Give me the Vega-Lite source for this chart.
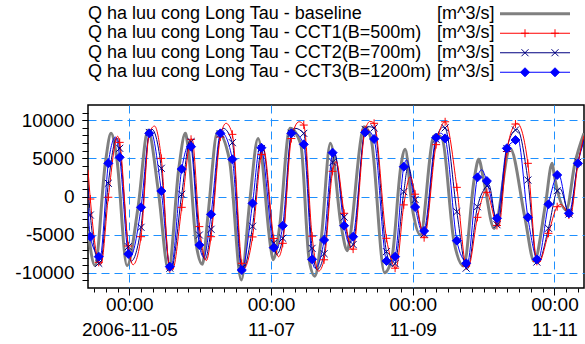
{
"$schema": "https://vega.github.io/schema/vega-lite/v6.json",
"padding": {"left": 14, "top": 4, "right": 3, "bottom": 0},
"bounds": "flush",
"spacing": 23,
"config": {"font": "Liberation Sans", "view": {"stroke": null}},
"datasets": {
"legend": [
{"s":"baseline","label":"Q ha luu cong Long Tau - baseline","unit":"[m^3/s]"},
{"s":"CCT1","label":"Q ha luu cong Long Tau - CCT1(B=500m)","unit":"[m^3/s]"},
{"s":"CCT2","label":"Q ha luu cong Long Tau - CCT2(B=700m)","unit":"[m^3/s]"},
{"s":"CCT3","label":"Q ha luu cong Long Tau - CCT3(B=1200m)","unit":"[m^3/s]"}
],
"markers": [
{"t":"2006-11-04T10:47","CCT1":-330,"CCT2":-2430,"CCT3":-5270},
{"t":"2006-11-04T13:38","CCT1":-8630,"CCT2":-8760,"CCT3":-7890},
{"t":"2006-11-04T16:53","CCT1":-100,"CCT2":1730,"CCT3":4350},
{"t":"2006-11-04T20:44","CCT1":7100,"CCT2":6320,"CCT3":5140},
{"t":"2006-11-04T23:39","CCT1":-6490,"CCT2":-6580,"CCT3":-7540},
{"t":"2006-11-05T03:58","CCT1":-5270,"CCT2":-4040,"CCT3":-1420},
{"t":"2006-11-05T06:46","CCT1":8300,"CCT2":8400,"CCT3":8280},
{"t":"2006-11-05T10:50","CCT1":5000,"CCT2":3700,"CCT3":720},
{"t":"2006-11-05T13:43","CCT1":-9500,"CCT2":-9400,"CCT3":-9200},
{"t":"2006-11-05T17:45","CCT1":-1420,"CCT2":290,"CCT3":3600},
{"t":"2006-11-05T20:54","CCT1":7500,"CCT2":7190,"CCT3":6530},
{"t":"2006-11-05T23:43","CCT1":-3950,"CCT2":-5050,"CCT3":-6360},
{"t":"2006-11-06T03:41","CCT1":-5270,"CCT2":-4300,"CCT3":-2340},
{"t":"2006-11-06T06:50","CCT1":7800,"CCT2":8200,"CCT3":8280},
{"t":"2006-11-06T10:54","CCT1":8150,"CCT2":7060,"CCT3":4870},
{"t":"2006-11-06T14:05","CCT1":-8760,"CCT2":-9400,"CCT3":-9640},
{"t":"2006-11-06T17:44","CCT1":-5300,"CCT2":-3900,"CCT3":-900},
{"t":"2006-11-06T20:43","CCT1":5500,"CCT2":6300,"CCT3":6400},
{"t":"2006-11-07T00:55","CCT1":-5500,"CCT2":-6100,"CCT3":-6710},
{"t":"2006-11-07T03:58","CCT1":-6140,"CCT2":-5480,"CCT3":-3830},
{"t":"2006-11-07T06:53","CCT1":7600,"CCT2":8300,"CCT3":8280},
{"t":"2006-11-07T11:05","CCT1":9370,"CCT2":8280,"CCT3":6840},
{"t":"2006-11-07T13:54","CCT1":-5200,"CCT2":-6800,"CCT3":-8240},
{"t":"2006-11-07T17:58","CCT1":-8300,"CCT2":-7500,"CCT3":-5700},
{"t":"2006-11-07T20:51","CCT1":3300,"CCT2":4500,"CCT3":5750},
{"t":"2006-11-08T00:45","CCT1":-2200,"CCT2":-2700,"CCT3":-3830},
{"t":"2006-11-08T03:48","CCT1":-6900,"CCT2":-6300,"CCT3":-5270},
{"t":"2006-11-08T07:52","CCT1":8700,"CCT2":8800,"CCT3":8410},
{"t":"2006-11-08T10:54","CCT1":9600,"CCT2":9000,"CCT3":7540},
{"t":"2006-11-08T15:05","CCT1":-5480,"CCT2":-7230,"CCT3":-8460},
{"t":"2006-11-08T18:01","CCT1":-9400,"CCT2":-8800,"CCT3":-7890},
{"t":"2006-11-08T20:58","CCT1":-1100,"CCT2":630,"CCT3":3910},
{"t":"2006-11-09T00:48","CCT1":300,"CCT2":-400,"CCT3":-1380},
{"t":"2006-11-09T03:51","CCT1":-5400,"CCT2":-4900,"CCT3":-4520},
{"t":"2006-11-09T07:55","CCT1":6800,"CCT2":7500,"CCT3":7710},
{"t":"2006-11-09T10:58","CCT1":9800,"CCT2":9000,"CCT3":7620},
{"t":"2006-11-09T14:56","CCT1":1200,"CCT2":-2000,"CCT3":-5790},
{"t":"2006-11-09T18:05","CCT1":-9100,"CCT2":-9400,"CCT3":-8760},
{"t":"2006-11-09T21:55","CCT1":-2730,"CCT2":-1340,"CCT3":2510},
{"t":"2006-11-10T01:06","CCT1":550,"CCT2":1380,"CCT3":2030},
{"t":"2006-11-10T04:31","CCT1":-3800,"CCT2":-3700,"CCT3":-2860},
{"t":"2006-11-10T07:52","CCT1":5900,"CCT2":6300,"CCT3":6320},
{"t":"2006-11-10T10:47","CCT1":9500,"CCT2":8720,"CCT3":7410},
{"t":"2006-11-10T14:59","CCT1":4350,"CCT2":2160,"CCT3":-2730},
{"t":"2006-11-10T18:02","CCT1":-8500,"CCT2":-8600,"CCT3":-8240},
{"t":"2006-11-10T21:58","CCT1":-4830,"CCT2":-4170,"CCT3":-1020},
{"t":"2006-11-11T00:55","CCT1":-1340,"CCT2":760,"CCT3":2820},
{"t":"2006-11-11T04:53","CCT1":-2430,"CCT2":-2300,"CCT3":-2200},
{"t":"2006-11-11T07:56","CCT1":4200,"CCT2":4500,"CCT3":4350}
],
"flow": [
{"s":"baseline","t":"2006-11-04T10:00","q":-4500},
{"s":"baseline","t":"2006-11-04T12:22","q":-9070},
{"s":"baseline","t":"2006-11-04T15:52","q":4350},
{"s":"baseline","t":"2006-11-04T17:48","q":8280},
{"s":"baseline","t":"2006-11-04T19:43","q":5140},
{"s":"baseline","t":"2006-11-04T23:13","q":-9070},
{"s":"baseline","t":"2006-11-05T02:57","q":-1420},
{"s":"baseline","t":"2006-11-05T06:20","q":8720},
{"s":"baseline","t":"2006-11-05T09:49","q":720},
{"s":"baseline","t":"2006-11-05T13:17","q":-9640},
{"s":"baseline","t":"2006-11-05T16:44","q":3600},
{"s":"baseline","t":"2006-11-05T18:58","q":8280},
{"s":"baseline","t":"2006-11-05T19:53","q":6530},
{"s":"baseline","t":"2006-11-05T22:42","q":-6360},
{"s":"baseline","t":"2006-11-06T00:44","q":-8900},
{"s":"baseline","t":"2006-11-06T02:40","q":-2340},
{"s":"baseline","t":"2006-11-06T05:53","q":8500},
{"s":"baseline","t":"2006-11-06T09:53","q":4870},
{"s":"baseline","t":"2006-11-06T13:55","q":-10950},
{"s":"baseline","t":"2006-11-06T16:43","q":-900},
{"s":"baseline","t":"2006-11-06T19:36","q":7600},
{"s":"baseline","t":"2006-11-06T23:54","q":-6710},
{"s":"baseline","t":"2006-11-07T00:41","q":-8300},
{"s":"baseline","t":"2006-11-07T02:57","q":-3830},
{"s":"baseline","t":"2006-11-07T05:52","q":8280},
{"s":"baseline","t":"2006-11-07T06:27","q":8940},
{"s":"baseline","t":"2006-11-07T10:04","q":6840},
{"s":"baseline","t":"2006-11-07T12:53","q":-8240},
{"s":"baseline","t":"2006-11-07T14:49","q":-10450},
{"s":"baseline","t":"2006-11-07T16:57","q":-5700},
{"s":"baseline","t":"2006-11-07T20:06","q":6970},
{"s":"baseline","t":"2006-11-07T23:44","q":-3830},
{"s":"baseline","t":"2006-11-08T01:52","q":-7100},
{"s":"baseline","t":"2006-11-08T02:47","q":-5270},
{"s":"baseline","t":"2006-11-08T06:51","q":8410},
{"s":"baseline","t":"2006-11-08T07:31","q":9150},
{"s":"baseline","t":"2006-11-08T09:54","q":7540},
{"s":"baseline","t":"2006-11-08T14:28","q":-10000},
{"s":"baseline","t":"2006-11-08T17:00","q":-7890},
{"s":"baseline","t":"2006-11-08T19:57","q":3910},
{"s":"baseline","t":"2006-11-08T21:25","q":6190},
{"s":"baseline","t":"2006-11-08T23:47","q":-1380},
{"s":"baseline","t":"2006-11-09T02:34","q":-5050},
{"s":"baseline","t":"2006-11-09T06:54","q":7710},
{"s":"baseline","t":"2006-11-09T07:55","q":8100},
{"s":"baseline","t":"2006-11-09T09:57","q":7620},
{"s":"baseline","t":"2006-11-09T13:55","q":-5790},
{"s":"baseline","t":"2006-11-09T17:14","q":-9100},
{"s":"baseline","t":"2006-11-09T20:54","q":2510},
{"s":"baseline","t":"2006-11-09T22:19","q":4870},
{"s":"baseline","t":"2006-11-10T00:05","q":2030},
{"s":"baseline","t":"2006-11-10T03:34","q":-4200},
{"s":"baseline","t":"2006-11-10T08:59","q":6300},
{"s":"baseline","t":"2006-11-10T13:58","q":-2730},
{"s":"baseline","t":"2006-11-10T17:07","q":-8500},
{"s":"baseline","t":"2006-11-10T20:57","q":-1020},
{"s":"baseline","t":"2006-11-10T23:13","q":4350},
{"s":"baseline","t":"2006-11-10T23:54","q":2820},
{"s":"baseline","t":"2006-11-11T03:58","q":-1770},
{"s":"baseline","t":"2006-11-11T06:55","q":4350},
{"s":"baseline","t":"2006-11-11T10:00","q":8300},
{"s":"CCT3","t":"2006-11-04T10:00","q":-1500},
{"s":"CCT3","t":"2006-11-04T10:47","q":-5270},
{"s":"CCT3","t":"2006-11-04T13:38","q":-7890},
{"s":"CCT3","t":"2006-11-04T14:04","q":-8050},
{"s":"CCT3","t":"2006-11-04T16:53","q":4350},
{"s":"CCT3","t":"2006-11-04T19:19","q":7780},
{"s":"CCT3","t":"2006-11-04T20:44","q":5140},
{"s":"CCT3","t":"2006-11-04T23:39","q":-7540},
{"s":"CCT3","t":"2006-11-05T00:14","q":-7950},
{"s":"CCT3","t":"2006-11-05T03:58","q":-1420},
{"s":"CCT3","t":"2006-11-05T06:46","q":8280},
{"s":"CCT3","t":"2006-11-05T07:11","q":8540},
{"s":"CCT3","t":"2006-11-05T10:50","q":720},
{"s":"CCT3","t":"2006-11-05T13:43","q":-9200},
{"s":"CCT3","t":"2006-11-05T14:07","q":-9300},
{"s":"CCT3","t":"2006-11-05T17:45","q":3600},
{"s":"CCT3","t":"2006-11-05T20:28","q":6970},
{"s":"CCT3","t":"2006-11-05T20:54","q":6530},
{"s":"CCT3","t":"2006-11-05T23:43","q":-6360},
{"s":"CCT3","t":"2006-11-06T01:12","q":-7950},
{"s":"CCT3","t":"2006-11-06T03:41","q":-2340},
{"s":"CCT3","t":"2006-11-06T06:50","q":8280},
{"s":"CCT3","t":"2006-11-06T07:14","q":8400},
{"s":"CCT3","t":"2006-11-06T10:54","q":4870},
{"s":"CCT3","t":"2006-11-06T14:05","q":-9640},
{"s":"CCT3","t":"2006-11-06T17:44","q":-900},
{"s":"CCT3","t":"2006-11-06T20:17","q":6600},
{"s":"CCT3","t":"2006-11-06T20:43","q":6400},
{"s":"CCT3","t":"2006-11-07T00:55","q":-6710},
{"s":"CCT3","t":"2006-11-07T01:22","q":-7100},
{"s":"CCT3","t":"2006-11-07T03:58","q":-3830},
{"s":"CCT3","t":"2006-11-07T06:53","q":8280},
{"s":"CCT3","t":"2006-11-07T07:22","q":8500},
{"s":"CCT3","t":"2006-11-07T11:05","q":6840},
{"s":"CCT3","t":"2006-11-07T13:54","q":-8240},
{"s":"CCT3","t":"2006-11-07T14:55","q":-9400},
{"s":"CCT3","t":"2006-11-07T17:58","q":-5700},
{"s":"CCT3","t":"2006-11-07T20:51","q":5750},
{"s":"CCT3","t":"2006-11-07T21:21","q":6000},
{"s":"CCT3","t":"2006-11-08T00:45","q":-3830},
{"s":"CCT3","t":"2006-11-08T02:26","q":-6150},
{"s":"CCT3","t":"2006-11-08T03:48","q":-5270},
{"s":"CCT3","t":"2006-11-08T07:52","q":8410},
{"s":"CCT3","t":"2006-11-08T08:42","q":8650},
{"s":"CCT3","t":"2006-11-08T10:54","q":7540},
{"s":"CCT3","t":"2006-11-08T15:05","q":-8460},
{"s":"CCT3","t":"2006-11-08T16:20","q":-8950},
{"s":"CCT3","t":"2006-11-08T18:01","q":-7890},
{"s":"CCT3","t":"2006-11-08T20:58","q":3910},
{"s":"CCT3","t":"2006-11-08T21:55","q":4800},
{"s":"CCT3","t":"2006-11-09T00:48","q":-1380},
{"s":"CCT3","t":"2006-11-09T03:21","q":-4700},
{"s":"CCT3","t":"2006-11-09T03:51","q":-4520},
{"s":"CCT3","t":"2006-11-09T07:55","q":7710},
{"s":"CCT3","t":"2006-11-09T09:26","q":8300},
{"s":"CCT3","t":"2006-11-09T10:58","q":7620},
{"s":"CCT3","t":"2006-11-09T14:56","q":-5790},
{"s":"CCT3","t":"2006-11-09T18:05","q":-8760},
{"s":"CCT3","t":"2006-11-09T18:25","q":-8900},
{"s":"CCT3","t":"2006-11-09T21:55","q":2510},
{"s":"CCT3","t":"2006-11-09T23:20","q":3500},
{"s":"CCT3","t":"2006-11-10T01:06","q":2030},
{"s":"CCT3","t":"2006-11-10T04:31","q":-2860},
{"s":"CCT3","t":"2006-11-10T07:52","q":6320},
{"s":"CCT3","t":"2006-11-10T10:47","q":7410},
{"s":"CCT3","t":"2006-11-10T11:32","q":7650},
{"s":"CCT3","t":"2006-11-10T14:59","q":-2730},
{"s":"CCT3","t":"2006-11-10T18:02","q":-8240},
{"s":"CCT3","t":"2006-11-10T18:23","q":-8400},
{"s":"CCT3","t":"2006-11-10T21:58","q":-1020},
{"s":"CCT3","t":"2006-11-11T00:55","q":2820},
{"s":"CCT3","t":"2006-11-11T01:21","q":2950},
{"s":"CCT3","t":"2006-11-11T04:53","q":-2200},
{"s":"CCT3","t":"2006-11-11T07:56","q":4350},
{"s":"CCT3","t":"2006-11-11T10:00","q":7300},
{"s":"CCT2","t":"2006-11-04T10:00","q":1200},
{"s":"CCT2","t":"2006-11-04T10:47","q":-2430},
{"s":"CCT2","t":"2006-11-04T13:38","q":-8760},
{"s":"CCT2","t":"2006-11-04T14:10","q":-8900},
{"s":"CCT2","t":"2006-11-04T16:53","q":1730},
{"s":"CCT2","t":"2006-11-04T19:43","q":7700},
{"s":"CCT2","t":"2006-11-04T20:44","q":6320},
{"s":"CCT2","t":"2006-11-04T23:39","q":-6580},
{"s":"CCT2","t":"2006-11-05T00:34","q":-8500},
{"s":"CCT2","t":"2006-11-05T03:58","q":-4040},
{"s":"CCT2","t":"2006-11-05T06:46","q":8400},
{"s":"CCT2","t":"2006-11-05T07:41","q":8800},
{"s":"CCT2","t":"2006-11-05T10:50","q":3700},
{"s":"CCT2","t":"2006-11-05T13:43","q":-9400},
{"s":"CCT2","t":"2006-11-05T14:11","q":-9500},
{"s":"CCT2","t":"2006-11-05T17:45","q":290},
{"s":"CCT2","t":"2006-11-05T20:34","q":7350},
{"s":"CCT2","t":"2006-11-05T20:54","q":7190},
{"s":"CCT2","t":"2006-11-05T23:43","q":-5050},
{"s":"CCT2","t":"2006-11-06T01:39","q":-8250},
{"s":"CCT2","t":"2006-11-06T03:41","q":-4300},
{"s":"CCT2","t":"2006-11-06T06:50","q":8200},
{"s":"CCT2","t":"2006-11-06T07:45","q":8950},
{"s":"CCT2","t":"2006-11-06T10:54","q":7060},
{"s":"CCT2","t":"2006-11-06T14:05","q":-9400},
{"s":"CCT2","t":"2006-11-06T14:29","q":-9600},
{"s":"CCT2","t":"2006-11-06T17:44","q":-3900},
{"s":"CCT2","t":"2006-11-06T20:43","q":6300},
{"s":"CCT2","t":"2006-11-06T21:08","q":6550},
{"s":"CCT2","t":"2006-11-07T00:55","q":-6100},
{"s":"CCT2","t":"2006-11-07T01:48","q":-7600},
{"s":"CCT2","t":"2006-11-07T03:58","q":-5480},
{"s":"CCT2","t":"2006-11-07T06:53","q":8300},
{"s":"CCT2","t":"2006-11-07T08:02","q":8950},
{"s":"CCT2","t":"2006-11-07T11:05","q":8280},
{"s":"CCT2","t":"2006-11-07T13:54","q":-6800},
{"s":"CCT2","t":"2006-11-07T15:36","q":-9600},
{"s":"CCT2","t":"2006-11-07T17:58","q":-7500},
{"s":"CCT2","t":"2006-11-07T20:51","q":4500},
{"s":"CCT2","t":"2006-11-07T21:31","q":5500},
{"s":"CCT2","t":"2006-11-08T00:45","q":-2700},
{"s":"CCT2","t":"2006-11-08T03:01","q":-6600},
{"s":"CCT2","t":"2006-11-08T03:48","q":-6300},
{"s":"CCT2","t":"2006-11-08T07:52","q":8800},
{"s":"CCT2","t":"2006-11-08T09:13","q":9150},
{"s":"CCT2","t":"2006-11-08T10:54","q":9000},
{"s":"CCT2","t":"2006-11-08T15:05","q":-7230},
{"s":"CCT2","t":"2006-11-08T17:11","q":-9100},
{"s":"CCT2","t":"2006-11-08T18:01","q":-8800},
{"s":"CCT2","t":"2006-11-08T20:58","q":630},
{"s":"CCT2","t":"2006-11-08T22:26","q":4000},
{"s":"CCT2","t":"2006-11-09T00:48","q":-400},
{"s":"CCT2","t":"2006-11-09T03:51","q":-4900},
{"s":"CCT2","t":"2006-11-09T07:55","q":7500},
{"s":"CCT2","t":"2006-11-09T10:17","q":9100},
{"s":"CCT2","t":"2006-11-09T10:58","q":9000},
{"s":"CCT2","t":"2006-11-09T14:56","q":-2000},
{"s":"CCT2","t":"2006-11-09T18:05","q":-9400},
{"s":"CCT2","t":"2006-11-09T18:31","q":-9500},
{"s":"CCT2","t":"2006-11-09T21:55","q":-1340},
{"s":"CCT2","t":"2006-11-10T01:06","q":1380},
{"s":"CCT2","t":"2006-11-10T01:42","q":1600},
{"s":"CCT2","t":"2006-11-10T04:31","q":-3700},
{"s":"CCT2","t":"2006-11-10T04:51","q":-3750},
{"s":"CCT2","t":"2006-11-10T07:52","q":6300},
{"s":"CCT2","t":"2006-11-10T10:47","q":8720},
{"s":"CCT2","t":"2006-11-10T11:22","q":8800},
{"s":"CCT2","t":"2006-11-10T14:59","q":2160},
{"s":"CCT2","t":"2006-11-10T18:02","q":-8600},
{"s":"CCT2","t":"2006-11-10T18:25","q":-8700},
{"s":"CCT2","t":"2006-11-10T21:58","q":-4170},
{"s":"CCT2","t":"2006-11-11T00:55","q":760},
{"s":"CCT2","t":"2006-11-11T01:56","q":1000},
{"s":"CCT2","t":"2006-11-11T04:53","q":-2300},
{"s":"CCT2","t":"2006-11-11T05:11","q":-2350},
{"s":"CCT2","t":"2006-11-11T07:56","q":4500},
{"s":"CCT2","t":"2006-11-11T10:00","q":7600},
{"s":"CCT1","t":"2006-11-04T10:00","q":3500},
{"s":"CCT1","t":"2006-11-04T10:47","q":-330},
{"s":"CCT1","t":"2006-11-04T13:38","q":-8630},
{"s":"CCT1","t":"2006-11-04T14:24","q":-8900},
{"s":"CCT1","t":"2006-11-04T16:53","q":-100},
{"s":"CCT1","t":"2006-11-04T20:00","q":7900},
{"s":"CCT1","t":"2006-11-04T20:44","q":7100},
{"s":"CCT1","t":"2006-11-04T23:39","q":-6490},
{"s":"CCT1","t":"2006-11-05T01:15","q":-8950},
{"s":"CCT1","t":"2006-11-05T03:58","q":-5270},
{"s":"CCT1","t":"2006-11-05T06:46","q":8300},
{"s":"CCT1","t":"2006-11-05T08:32","q":9240},
{"s":"CCT1","t":"2006-11-05T10:50","q":5000},
{"s":"CCT1","t":"2006-11-05T13:43","q":-9500},
{"s":"CCT1","t":"2006-11-05T14:38","q":-9600},
{"s":"CCT1","t":"2006-11-05T17:45","q":-1420},
{"s":"CCT1","t":"2006-11-05T20:54","q":7500},
{"s":"CCT1","t":"2006-11-05T21:14","q":7550},
{"s":"CCT1","t":"2006-11-05T23:43","q":-3950},
{"s":"CCT1","t":"2006-11-06T02:05","q":-8400},
{"s":"CCT1","t":"2006-11-06T03:41","q":-5270},
{"s":"CCT1","t":"2006-11-06T06:50","q":7800},
{"s":"CCT1","t":"2006-11-06T08:46","q":9600},
{"s":"CCT1","t":"2006-11-06T10:54","q":8150},
{"s":"CCT1","t":"2006-11-06T14:05","q":-8760},
{"s":"CCT1","t":"2006-11-06T14:41","q":-9500},
{"s":"CCT1","t":"2006-11-06T17:44","q":-5300},
{"s":"CCT1","t":"2006-11-06T20:43","q":5500},
{"s":"CCT1","t":"2006-11-06T21:28","q":6200},
{"s":"CCT1","t":"2006-11-07T00:55","q":-5500},
{"s":"CCT1","t":"2006-11-07T02:33","q":-7900},
{"s":"CCT1","t":"2006-11-07T03:58","q":-6140},
{"s":"CCT1","t":"2006-11-07T06:53","q":7600},
{"s":"CCT1","t":"2006-11-07T09:30","q":9800},
{"s":"CCT1","t":"2006-11-07T11:05","q":9370},
{"s":"CCT1","t":"2006-11-07T13:54","q":-5200},
{"s":"CCT1","t":"2006-11-07T16:06","q":-9800},
{"s":"CCT1","t":"2006-11-07T17:58","q":-8300},
{"s":"CCT1","t":"2006-11-07T20:51","q":3300},
{"s":"CCT1","t":"2006-11-07T22:02","q":4600},
{"s":"CCT1","t":"2006-11-08T00:45","q":-2200},
{"s":"CCT1","t":"2006-11-08T03:27","q":-7000},
{"s":"CCT1","t":"2006-11-08T03:48","q":-6900},
{"s":"CCT1","t":"2006-11-08T07:52","q":8700},
{"s":"CCT1","t":"2006-11-08T09:33","q":9850},
{"s":"CCT1","t":"2006-11-08T10:54","q":9600},
{"s":"CCT1","t":"2006-11-08T15:05","q":-5480},
{"s":"CCT1","t":"2006-11-08T18:01","q":-9400},
{"s":"CCT1","t":"2006-11-08T18:18","q":-9500},
{"s":"CCT1","t":"2006-11-08T20:58","q":-1100},
{"s":"CCT1","t":"2006-11-08T23:06","q":2600},
{"s":"CCT1","t":"2006-11-09T00:48","q":300},
{"s":"CCT1","t":"2006-11-09T03:51","q":-5400},
{"s":"CCT1","t":"2006-11-09T07:55","q":6800},
{"s":"CCT1","t":"2006-11-09T10:58","q":9800},
{"s":"CCT1","t":"2006-11-09T14:56","q":1200},
{"s":"CCT1","t":"2006-11-09T18:05","q":-9100},
{"s":"CCT1","t":"2006-11-09T18:46","q":-9300},
{"s":"CCT1","t":"2006-11-09T21:55","q":-2730},
{"s":"CCT1","t":"2006-11-10T00:41","q":600},
{"s":"CCT1","t":"2006-11-10T01:06","q":550},
{"s":"CCT1","t":"2006-11-10T04:31","q":-3800},
{"s":"CCT1","t":"2006-11-10T05:06","q":-3950},
{"s":"CCT1","t":"2006-11-10T07:52","q":5900},
{"s":"CCT1","t":"2006-11-10T10:47","q":9500},
{"s":"CCT1","t":"2006-11-10T11:22","q":9600},
{"s":"CCT1","t":"2006-11-10T14:59","q":4350},
{"s":"CCT1","t":"2006-11-10T18:02","q":-8500},
{"s":"CCT1","t":"2006-11-10T18:39","q":-8700},
{"s":"CCT1","t":"2006-11-10T21:58","q":-4830},
{"s":"CCT1","t":"2006-11-11T00:55","q":-1340},
{"s":"CCT1","t":"2006-11-11T02:06","q":-1050},
{"s":"CCT1","t":"2006-11-11T04:53","q":-2430},
{"s":"CCT1","t":"2006-11-11T05:19","q":-2650},
{"s":"CCT1","t":"2006-11-11T07:56","q":4200},
{"s":"CCT1","t":"2006-11-11T10:00","q":8000}
]
},
"vconcat": [
{
"width": 496, "height": 78,
"data": {"name": "legend"},
"encoding": {"y": {"field": "s", "type": "nominal", "scale": {"type": "point", "domain": ["baseline","CCT1","CCT2","CCT3"], "padding": 0.5}, "axis": null}},
"layer": [
{"mark": {"type": "text", "align": "left", "baseline": "middle", "fontSize": 18, "color": "black"},
 "encoding": {"x": {"datum": 0, "type": "quantitative", "scale": {"domain": [0, 496], "nice": false, "zero": false}, "axis": null}, "text": {"field": "label"}}},
{"mark": {"type": "text", "align": "left", "baseline": "middle", "fontSize": 18, "color": "black"},
 "encoding": {"x": {"datum": 349, "type": "quantitative", "scale": {"domain": [0, 496], "nice": false, "zero": false}, "axis": null}, "text": {"field": "unit"}}},
{"transform": [{"filter": "datum.s == 'baseline'"}], "mark": {"type": "rule", "color": "#808080", "strokeWidth": 3},
 "encoding": {"x": {"datum": 412, "type": "quantitative", "scale": {"domain": [0, 496], "nice": false, "zero": false}, "axis": null}, "x2": {"datum": 482}}},
{"transform": [{"filter": "datum.s != 'baseline'"}], "mark": {"type": "rule", "strokeWidth": 1},
 "encoding": {"x": {"datum": 412, "type": "quantitative", "scale": {"domain": [0, 496], "nice": false, "zero": false}, "axis": null}, "x2": {"datum": 482},
  "color": {"field": "s", "type": "nominal", "scale": {"domain": ["baseline","CCT1","CCT2","CCT3"], "range": ["#808080","#ff0000","#000080","#0000ff"]}, "legend": null}}},
{"transform": [{"filter": "datum.s != 'baseline'"}], "mark": {"type": "point", "filled": true, "opacity": 1, "strokeWidth": 1, "size": 81},
 "encoding": {"x": {"datum": 437, "type": "quantitative", "scale": {"domain": [0, 496], "nice": false, "zero": false}, "axis": null},
  "color": {"field": "s", "type": "nominal", "scale": {"domain": ["baseline","CCT1","CCT2","CCT3"], "range": ["#808080","#ff0000","#000080","#0000ff"]}, "legend": null},
  "stroke": {"field": "s", "type": "nominal", "scale": {"domain": ["baseline","CCT1","CCT2","CCT3"], "range": ["#808080","#ff0000","#000080","#0000ff"]}, "legend": null},
  "shape": {"field": "s", "type": "nominal", "scale": {"domain": ["baseline","CCT1","CCT2","CCT3"], "range": ["circle","M-0.89,0H0.89M0,-0.89V0.89","M-0.78,-0.78L0.78,0.78M-0.78,0.78L0.78,-0.78","M-1,0L0,-1L1,0L0,1Z"]}, "legend": null}}},
{"transform": [{"filter": "datum.s != 'baseline'"}], "mark": {"type": "point", "filled": true, "opacity": 1, "strokeWidth": 1, "size": 81},
 "encoding": {"x": {"datum": 467, "type": "quantitative", "scale": {"domain": [0, 496], "nice": false, "zero": false}, "axis": null},
  "color": {"field": "s", "type": "nominal", "scale": {"domain": ["baseline","CCT1","CCT2","CCT3"], "range": ["#808080","#ff0000","#000080","#0000ff"]}, "legend": null},
  "stroke": {"field": "s", "type": "nominal", "scale": {"domain": ["baseline","CCT1","CCT2","CCT3"], "range": ["#808080","#ff0000","#000080","#0000ff"]}, "legend": null},
  "shape": {"field": "s", "type": "nominal", "scale": {"domain": ["baseline","CCT1","CCT2","CCT3"], "range": ["circle","M-0.89,0H0.89M0,-0.89V0.89","M-0.78,-0.78L0.78,0.78M-0.78,0.78L0.78,-0.78","M-1,0L0,-1L1,0L0,1Z"]}, "legend": null}}}
]
},
{
"width": 496, "height": 183,
"view": {"stroke": "black", "strokeWidth": 1.5},
"resolve": {"axis": {"x": "independent", "y": "independent"}},
"layer": [
{"data": {"name": "flow"}, "transform": [{"filter": "datum.s == 'baseline'"}],
 "mark": {"type": "line", "interpolate": "monotone", "color": "#808080", "strokeWidth": 3, "clip": true},
 "encoding": {
  "x": {"field": "t", "type": "temporal", "scale": {"nice": false},
   "axis": {"orient": "bottom", "title": null, "labels": false, "grid": false, "domain": false, "tickSize": 4, "tickColor": "black",
    "values": [
{"year":2006,"month":11,"date":4,"hours":12},{"year":2006,"month":11,"date":4,"hours":16},{"year":2006,"month":11,"date":4,"hours":20},
{"year":2006,"month":11,"date":5,"hours":0},{"year":2006,"month":11,"date":5,"hours":4},{"year":2006,"month":11,"date":5,"hours":8},{"year":2006,"month":11,"date":5,"hours":12},{"year":2006,"month":11,"date":5,"hours":16},{"year":2006,"month":11,"date":5,"hours":20},
{"year":2006,"month":11,"date":6,"hours":0},{"year":2006,"month":11,"date":6,"hours":4},{"year":2006,"month":11,"date":6,"hours":8},{"year":2006,"month":11,"date":6,"hours":12},{"year":2006,"month":11,"date":6,"hours":16},{"year":2006,"month":11,"date":6,"hours":20},
{"year":2006,"month":11,"date":7,"hours":0},{"year":2006,"month":11,"date":7,"hours":4},{"year":2006,"month":11,"date":7,"hours":8},{"year":2006,"month":11,"date":7,"hours":12},{"year":2006,"month":11,"date":7,"hours":16},{"year":2006,"month":11,"date":7,"hours":20},
{"year":2006,"month":11,"date":8,"hours":0},{"year":2006,"month":11,"date":8,"hours":4},{"year":2006,"month":11,"date":8,"hours":8},{"year":2006,"month":11,"date":8,"hours":12},{"year":2006,"month":11,"date":8,"hours":16},{"year":2006,"month":11,"date":8,"hours":20},
{"year":2006,"month":11,"date":9,"hours":0},{"year":2006,"month":11,"date":9,"hours":4},{"year":2006,"month":11,"date":9,"hours":8},{"year":2006,"month":11,"date":9,"hours":12},{"year":2006,"month":11,"date":9,"hours":16},{"year":2006,"month":11,"date":9,"hours":20},
{"year":2006,"month":11,"date":10,"hours":0},{"year":2006,"month":11,"date":10,"hours":4},{"year":2006,"month":11,"date":10,"hours":8},{"year":2006,"month":11,"date":10,"hours":12},{"year":2006,"month":11,"date":10,"hours":16},{"year":2006,"month":11,"date":10,"hours":20},
{"year":2006,"month":11,"date":11,"hours":0},{"year":2006,"month":11,"date":11,"hours":4},{"year":2006,"month":11,"date":11,"hours":8}
    ]}},
  "y": {"field": "q", "type": "quantitative", "scale": {"domain": [-12000, 12000], "nice": false, "zero": false},
   "axis": {"orient": "left", "title": null, "labels": false, "grid": false, "domain": false, "tickSize": 6, "tickColor": "black",
    "values": [-11000,-10000,-9000,-8000,-7000,-6000,-5000,-4000,-3000,-2000,-1000,0,1000,2000,3000,4000,5000,6000,7000,8000,9000,10000,11000]}}
 }},
{"data": {"name": "flow"}, "transform": [{"filter": "datum.s != 'baseline'"}],
 "mark": {"type": "line", "interpolate": "monotone", "strokeWidth": 1, "clip": true},
 "encoding": {
  "x": {"field": "t", "type": "temporal", "scale": {"nice": false},
   "axis": {"orient": "bottom", "title": null, "format": "%H:%M", "labelFontSize": 19, "labelColor": "black", "labelPadding": 0, "labelFlush": false, "labelOverlap": false,
    "grid": true, "gridColor": "#1E90FF", "gridDash": [8, 5], "domain": false, "tickSize": 7, "tickColor": "black",
    "values": [{"year":2006,"month":11,"date":5,"hours":0},{"year":2006,"month":11,"date":7,"hours":0},{"year":2006,"month":11,"date":9,"hours":0},{"year":2006,"month":11,"date":11,"hours":0}]}},
  "y": {"field": "q", "type": "quantitative", "scale": {"domain": [-12000, 12000], "nice": false, "zero": false},
   "axis": {"orient": "left", "title": null, "values": [-10000,-5000,0,5000,10000], "labelExpr": "'' + datum.value",
    "labelFontSize": 19, "labelColor": "black", "labelPadding": 8, "labelOverlap": false,
    "grid": true, "gridColor": "#1E90FF", "gridDash": [8, 5], "domain": false, "tickSize": 6, "tickColor": "black"}},
  "color": {"field": "s", "type": "nominal", "scale": {"domain": ["baseline","CCT1","CCT2","CCT3"], "range": ["#808080","#ff0000","#000080","#0000ff"]}, "legend": null}
 }},
{"data": {"name": "markers"}, "transform": [{"fold": ["CCT1","CCT2","CCT3"], "as": ["s","q"]}],
 "mark": {"type": "point", "filled": true, "opacity": 1, "strokeWidth": 1, "size": 81, "clip": true},
 "encoding": {
  "x": {"field": "t", "type": "temporal", "scale": {"nice": false},
   "axis": {"orient": "bottom", "title": null, "format": "%m-%d", "labelExpr": "datum.index == 0 ? '2006-' + datum.label : datum.label",
    "labelFontSize": 19, "labelColor": "black", "labelPadding": 0, "labelFlush": false, "labelOverlap": false, "offset": 25,
    "grid": false, "domain": false, "tickSize": 7, "tickOpacity": 0,
    "values": [{"year":2006,"month":11,"date":5,"hours":0},{"year":2006,"month":11,"date":7,"hours":0},{"year":2006,"month":11,"date":9,"hours":0},{"year":2006,"month":11,"date":11,"hours":0}]}},
  "y": {"field": "q", "type": "quantitative", "scale": {"domain": [-12000, 12000], "nice": false, "zero": false}, "axis": null},
  "color": {"field": "s", "type": "nominal", "scale": {"domain": ["baseline","CCT1","CCT2","CCT3"], "range": ["#808080","#ff0000","#000080","#0000ff"]}, "legend": null},
  "stroke": {"field": "s", "type": "nominal", "scale": {"domain": ["baseline","CCT1","CCT2","CCT3"], "range": ["#808080","#ff0000","#000080","#0000ff"]}, "legend": null},
  "shape": {"field": "s", "type": "nominal", "scale": {"domain": ["baseline","CCT1","CCT2","CCT3"], "range": ["circle","M-0.89,0H0.89M0,-0.89V0.89","M-0.78,-0.78L0.78,0.78M-0.78,0.78L0.78,-0.78","M-1,0L0,-1L1,0L0,1Z"]}, "legend": null}
 }}
]
}
]
}
